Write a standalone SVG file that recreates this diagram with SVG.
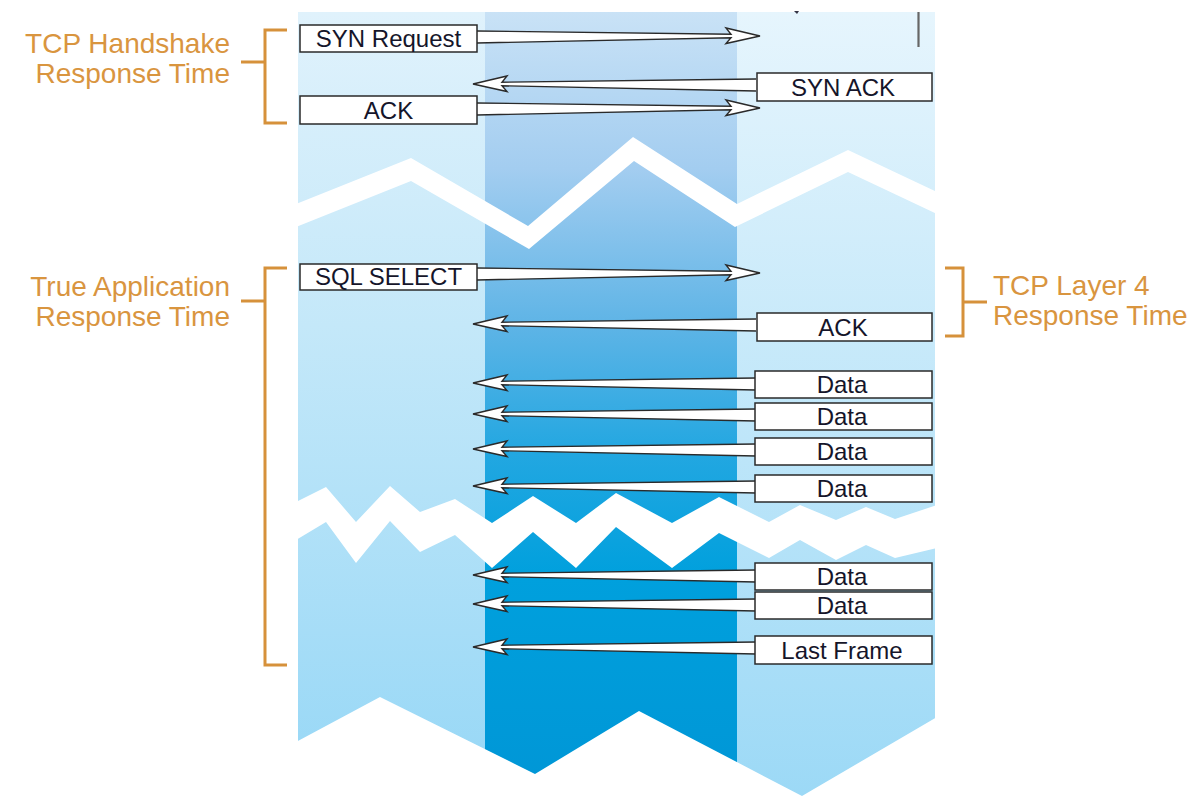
<svg xmlns="http://www.w3.org/2000/svg" xmlns:xlink="http://www.w3.org/1999/xlink" width="1203" height="796" viewBox="0 0 1203 796">
<style>
  .box { fill: #ffffff; stroke: #2a2a2a; stroke-width: 1.5; }
  .lbl { font-family: "Liberation Sans", Arial, sans-serif; font-size: 24px; fill: #15152a; text-anchor: middle; }
  .olbl { font-family: "Liberation Sans", Arial, sans-serif; font-size: 28px; fill: #d9953f; }
  .brk { fill: none; stroke: #d6913b; stroke-width: 3; }
  .afill { fill: #ffffff; stroke: none; }
  .aline { fill: none; stroke: #2a2a2a; stroke-width: 1.4; stroke-linejoin: miter; }
</style>
<defs>
  <linearGradient id="gLeft" gradientUnits="userSpaceOnUse" x1="0" y1="12" x2="0" y2="796">
    <stop offset="0" stop-color="#e0f2fc"/>
    <stop offset="0.4" stop-color="#c4e8f9"/>
    <stop offset="1" stop-color="#96d7f6"/>
  </linearGradient>
  <linearGradient id="gMid" gradientUnits="userSpaceOnUse" x1="0" y1="12" x2="0" y2="796">
    <stop offset="0" stop-color="#c9e2f6"/>
    <stop offset="0.2" stop-color="#a3cdf0"/>
    <stop offset="0.4" stop-color="#5eb4e6"/>
    <stop offset="0.56" stop-color="#23a7e1"/>
    <stop offset="0.72" stop-color="#00a0dd"/>
    <stop offset="1" stop-color="#0096d6"/>
  </linearGradient>
  <linearGradient id="gRight" gradientUnits="userSpaceOnUse" x1="0" y1="12" x2="0" y2="796">
    <stop offset="0" stop-color="#e6f5fd"/>
    <stop offset="0.4" stop-color="#c9eafa"/>
    <stop offset="1" stop-color="#9cd9f6"/>
  </linearGradient>
  <g id="arrowL">
    <path class="afill" d="M0,0 L34,-8 L29,-1.8 L286,-5 L286,7 L29,1.8 L34,7.5 Z"/>
    <path class="aline" d="M283,-5 L29,-1.8 L34,-8 L0,0 L34,7.5 L29,1.8 L283,7"/>
  </g>
</defs>

<g id="background">
  <rect x="298" y="12" width="187" height="784" fill="url(#gLeft)"/>
  <rect x="485" y="12" width="252" height="784" fill="url(#gMid)"/>
  <rect x="737" y="12" width="198" height="784" fill="url(#gRight)"/>
  <!-- break bands -->
  <polygon fill="#ffffff" points="296,204 411,158 528,226 633,137 737,204 848,150 937,192 937,214 848,172 735,227 634,161 529,249 411,181 296,227"/>
  <polygon fill="#ffffff" points="296,502 326,487 356,522 390,486 420,512 455,499 492,523 533,496 576,523 616,493 672,523 719,497 769,522 800,505 836,520 866,507 895,519 937,505 937,548 895,558 866,545 836,560 800,540 769,558 719,533 672,568 616,527 576,568 533,532 492,568 455,535 420,552 390,521 356,563 326,522 296,540"/>
  <!-- bottom cut -->
  <polygon fill="#ffffff" points="296,742 380,697 535,774 639,711 802,796 937,717 937,796 296,796"/>
  <!-- small marks at top of right column -->
  <line x1="918.5" y1="12" x2="918.5" y2="47" stroke="#666666" stroke-width="2.2"/>
  <path d="M794,11 L799,11 L797,14 Z" fill="#333344"/>
</g>

<g id="connectors">
  <use xlink:href="#arrowL" transform="translate(760,36) scale(-1,1)"/>
  <use xlink:href="#arrowL" transform="translate(473,84)"/>
  <use xlink:href="#arrowL" transform="translate(760,108) scale(-1,1)"/>
  <use xlink:href="#arrowL" transform="translate(760,273) scale(-1,1)"/>
  <use xlink:href="#arrowL" transform="translate(473,324)"/>
  <use xlink:href="#arrowL" transform="translate(473,383)"/>
  <use xlink:href="#arrowL" transform="translate(473,414)"/>
  <use xlink:href="#arrowL" transform="translate(473,449)"/>
  <use xlink:href="#arrowL" transform="translate(473,486)"/>
  <use xlink:href="#arrowL" transform="translate(473,575)"/>
  <use xlink:href="#arrowL" transform="translate(473,604)"/>
  <use xlink:href="#arrowL" transform="translate(473,647)"/>
</g>

<g id="node-syn-request">
  <rect class="box" x="300" y="25" width="177" height="27"/>
  <text class="lbl" x="388.5" y="46.5">SYN Request</text>
</g>
<g id="node-syn-ack">
  <rect class="box" x="757" y="73" width="175" height="28"/>
  <text class="lbl" x="843" y="95.5">SYN ACK</text>
</g>
<g id="node-ack-1">
  <rect class="box" x="300" y="96" width="177" height="28"/>
  <text class="lbl" x="388.5" y="118.5">ACK</text>
</g>
<g id="node-sql-select">
  <rect class="box" x="300" y="264" width="177" height="26"/>
  <text class="lbl" x="388.5" y="285">SQL SELECT</text>
</g>
<g id="node-ack-2">
  <rect class="box" x="757" y="313" width="175" height="28"/>
  <text class="lbl" x="843" y="335.5">ACK</text>
</g>
<g id="node-data-1">
  <rect class="box" x="755" y="371" width="177" height="27"/>
  <text class="lbl" x="842" y="393">Data</text>
</g>
<g id="node-data-2">
  <rect class="box" x="755" y="403" width="177" height="27"/>
  <text class="lbl" x="842" y="425">Data</text>
</g>
<g id="node-data-3">
  <rect class="box" x="755" y="438" width="177" height="27"/>
  <text class="lbl" x="842" y="460">Data</text>
</g>
<g id="node-data-4">
  <rect class="box" x="755" y="475" width="177" height="27"/>
  <text class="lbl" x="842" y="497">Data</text>
</g>
<g id="node-data-5">
  <rect class="box" x="755" y="563" width="177" height="27"/>
  <text class="lbl" x="842" y="585">Data</text>
</g>
<g id="node-data-6">
  <rect class="box" x="755" y="592" width="177" height="27"/>
  <text class="lbl" x="842" y="614">Data</text>
</g>
<g id="node-last-frame">
  <rect class="box" x="755" y="636" width="177" height="28"/>
  <text class="lbl" x="842" y="658.5">Last Frame</text>
</g>

<g id="label-handshake">
  <path class="brk" d="M287,30 L265,30 L265,123 L287,123 M265,62 L241,62"/>
  <text class="olbl" x="230" y="53" text-anchor="end">TCP Handshake</text>
  <text class="olbl" x="230" y="83" text-anchor="end">Response Time</text>
</g>
<g id="label-true-app">
  <path class="brk" d="M287,268 L265,268 L265,665 L287,665 M265,301 L241,301"/>
  <text class="olbl" x="230" y="296" text-anchor="end">True Application</text>
  <text class="olbl" x="230" y="326" text-anchor="end">Response Time</text>
</g>
<g id="label-layer4">
  <path class="brk" d="M945,268 L963,268 L963,336 L945,336 M963,302 L987,302"/>
  <text class="olbl" x="993" y="295">TCP Layer 4</text>
  <text class="olbl" x="993" y="325">Response Time</text>
</g>
</svg>
